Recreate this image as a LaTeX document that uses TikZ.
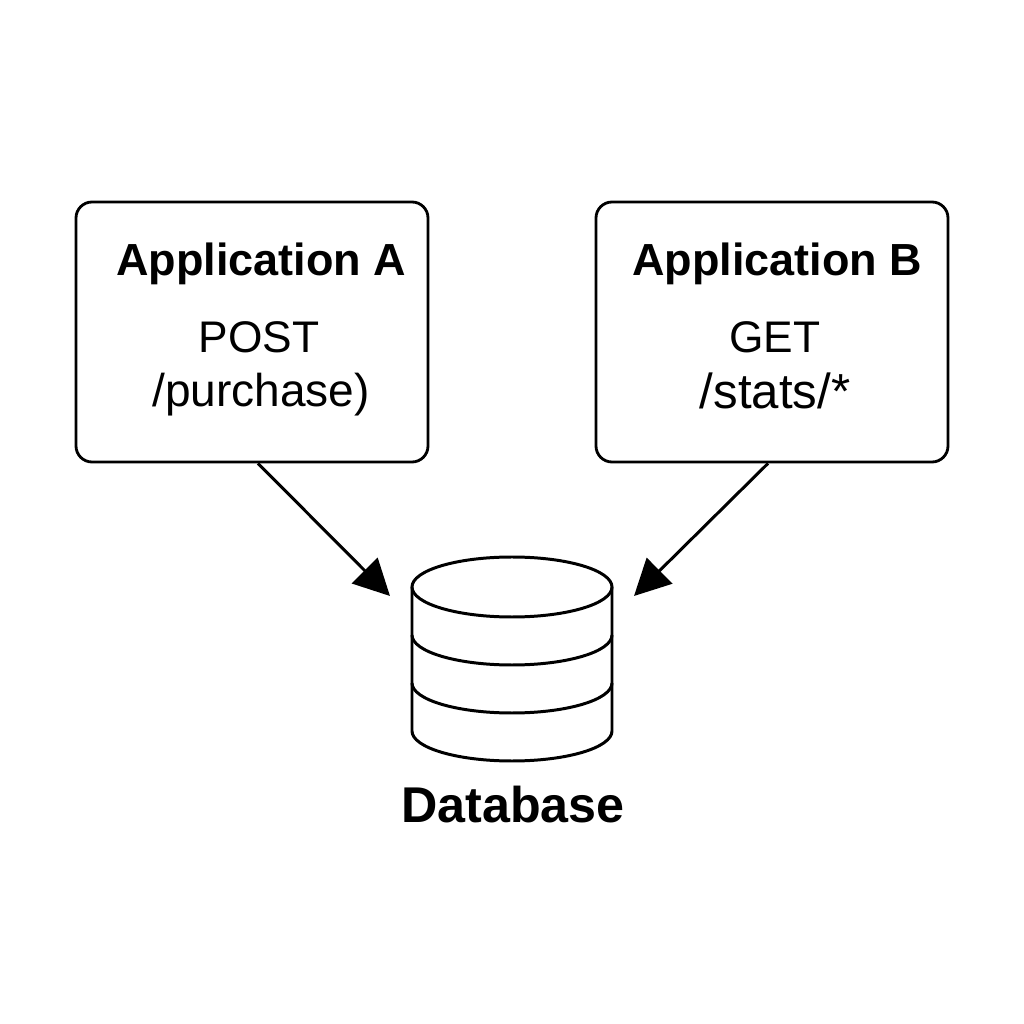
\documentclass[tikz,border=0pt]{standalone}
\usepackage{fontspec}
\setmainfont{Liberation Sans}
\usetikzlibrary{arrows.meta}
\tikzset{
  appbox/.style={draw,line width=.8pt,rounded corners=.16cm,minimum width=3.52cm,minimum height=2.6cm},
  title/.style={font=\fontsize{12.8}{15}\selectfont\bfseries,inner sep=0pt},
  route/.style={font=\fontsize{12.6}{15}\selectfont,inner sep=0pt},
  flow/.style={line width=.85pt,-{Triangle[length=.36cm,width=.36cm]}},
  dbline/.style={line width=.85pt}
}
\begin{document}
\begin{tikzpicture}
  \useasboundingbox (0,0) rectangle (10.24,10.24);
  \node[appbox] (appA) at (2.52,6.92) {};
  \node[appbox] (appB) at (7.72,6.92) {};
  \node[title] (titleA) at (2.61,7.60) {Application A};
  \node[title] (titleB) at (7.77,7.60) {Application B};
  \node[route] (postA) at (2.59,6.87) {POST};
  \node[route,font=\fontsize{13.1}{15}\selectfont] (pathA) at (2.61,6.29) {/purchase)};
  \node[route] (getB) at (7.75,6.87) {GET};
  \node[route,font=\fontsize{14}{15}\selectfont] (pathB) at (7.75,6.33) {/stats/*};
  % database
  \draw[dbline] (5.12,4.37) ellipse (1cm and .3cm);
  \draw[dbline] (4.12,4.37) -- (4.12,2.93) arc (180:360:1cm and .3cm) -- (6.12,4.37);
  \draw[dbline] (4.12,3.89) arc (180:360:1cm and .3cm);
  \draw[dbline] (4.12,3.41) arc (180:360:1cm and .3cm);
  \node[font=\fontsize{14.3}{17}\selectfont\bfseries,inner sep=0pt] (dbname) at (5.13,2.19) {Database};
  \coordinate (tipA) at (3.90,4.28);
  \coordinate (tipB) at (6.34,4.28);
  \draw[flow] ([xshift=.06cm]appA.south) -- (tipA);
  \draw[flow] ([xshift=-.04cm]appB.south) -- (tipB);
\end{tikzpicture}
\end{document}
